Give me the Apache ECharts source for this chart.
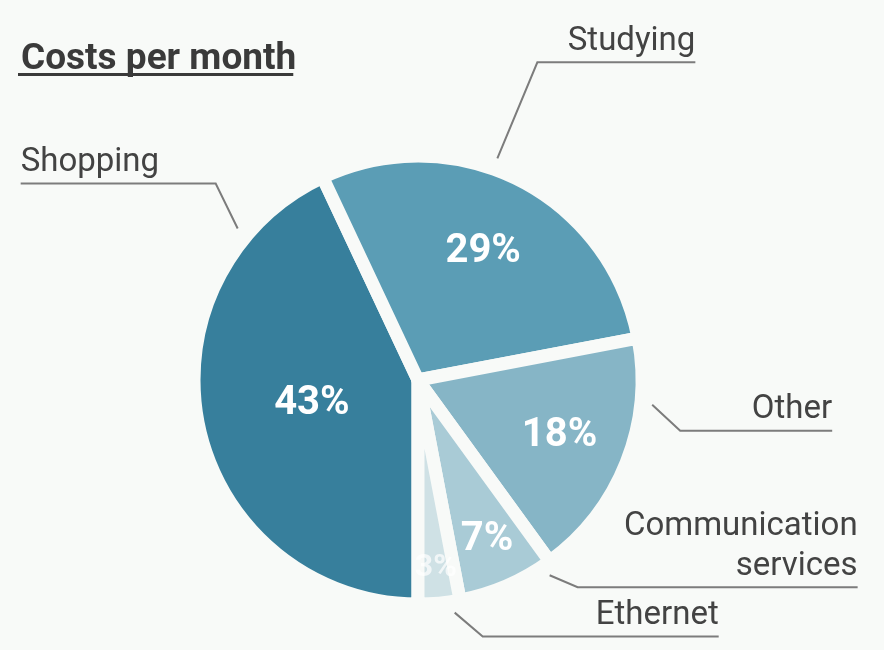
<!DOCTYPE html>
<html><head><meta charset="utf-8">
<script src="https://cdn.jsdelivr.net/npm/echarts@6/dist/echarts.min.js"></script>
<style>html,body{margin:0;padding:0;background:#f8faf8;} #main{width:884px;height:650px;}</style>
</head><body><div id="main"></div>
<script>
// ---- data ----
const categories = ['Shopping', 'Studying', 'Other', 'Communication\nservices', 'Ethernet'];
const shares = [43, 29, 18, 7, 3];
const titleText = 'Costs per month';

// ---- style / layout config ----
const BG = '#f8faf8';
const sliceColors = ['#377f9c', '#5b9db5', '#86b5c6', '#a9cbd6', '#cfe1e5'];
const innerLabelOpacity = [1, 1, 1, 1, 0.7];
const innerLabelSize = [40, 40, 40, 40, 32];
const CX = 418, CY = 380, R_OUT = 224, GAP = 13;
const R_VIS = R_OUT - GAP / 2;
const innerLabelRadius = [0.5, 0.66, 0.7, 0.8, 0.87];
const labelAnchor = [0.84, 0.43, 0.26, 0.08, 0.17];
const leaderBend = [[-22, -45], [40, -96], [28, 26], [28, 12], [28, 24]];
const leaderRun = [195, 158, 152, 280, 236];
const LEADER_GAP = 18;
const LABEL_FONT = 'Roboto';
const TITLE_SIZE = 37;

// slice angles (clockwise from 12 o'clock, starting at 6 o'clock)
const total = shares.reduce((a, b) => a + b, 0);
const sliceAngles = [];
(function () {
  let a = 180;
  shares.forEach(v => { const s = a; a += v / total * 360; sliceAngles.push([s, a]); });
})();
function polar(deg, r) {
  const t = deg * Math.PI / 180;
  return [CX + r * Math.sin(t), CY - r * Math.cos(t)];
}

const chart = echarts.init(document.getElementById('main'), null, { renderer: 'canvas' });

// measure title for underline
const mctx = document.createElement('canvas').getContext('2d');
mctx.font = 'bold ' + TITLE_SIZE + 'px Roboto';
const titleW = mctx.measureText(titleText).width;

const pieData = categories.map((c, i) => ({
  name: c, value: shares[i],
  itemStyle: { color: sliceColors[i] },
  label: { opacity: innerLabelOpacity[i], fontSize: innerLabelSize[i] }
}));
const labelData = categories.map((c, i) => ({ name: c, value: shares[i] }));

chart.setOption({
  backgroundColor: BG,
  animation: false,
  title: {
    text: titleText, left: 16, top: 33,
    textStyle: { fontFamily: LABEL_FONT, fontSize: TITLE_SIZE, fontWeight: 'bold', color: '#3a3a3a', lineHeight: 44 }
  },
  graphic: [{
    type: 'rect', left: 18, top: 73,
    shape: { width: titleW, height: 3 },
    style: { fill: '#3a3a3a' }, silent: true
  }],
  series: [
    {
      type: 'pie',
      center: [CX, CY], radius: R_OUT,
      startAngle: -90, clockwise: true,
      emphasis: { disabled: true },
      silent: true,
      itemStyle: { borderColor: BG, borderWidth: GAP, borderJoin: 'round' },
      label: {
        show: true, position: 'inside', formatter: '{c}%',
        color: '#ffffff', fontFamily: LABEL_FONT, fontSize: 40, fontWeight: 'bold'
      },
      labelLine: { show: false },
      labelLayout: function (p) {
        const i = p.dataIndex;
        const [s, e] = sliceAngles[i];
        const pt = polar((s + e) / 2, R_VIS * innerLabelRadius[i]);
        return { x: pt[0], y: pt[1], align: 'center', verticalAlign: 'middle' };
      },
      data: pieData
    },
    {
      type: 'pie',
      center: [CX, CY], radius: R_OUT,
      startAngle: -90, clockwise: true,
      emphasis: { disabled: true },
      silent: true,
      itemStyle: { color: 'rgba(0,0,0,0)', borderWidth: 0 },
      label: {
        show: true, position: 'outside', formatter: '{b}',
        color: '#434343', fontFamily: LABEL_FONT, fontSize: 33, lineHeight: 40
      },
      labelLine: { show: true, lineStyle: { color: '#7c7c7c', width: 2 } },
      labelLayout: function (p) {
        const i = p.dataIndex;
        const [s, e] = sliceAngles[i];
        const p0 = polar(s + (e - s) * labelAnchor[i], R_VIS + LEADER_GAP);
        const p1 = [p0[0] + leaderBend[i][0], p0[1] + leaderBend[i][1]];
        const dir = leaderBend[i][0] < 0 ? -1 : 1;
        const p2 = [p1[0] + dir * leaderRun[i], p1[1]];
        return {
          x: p2[0], y: p1[1] - 1,
          align: dir < 0 ? 'left' : 'right',
          verticalAlign: 'bottom',
          labelLinePoints: [p0, p1, p2]
        };
      },
      data: labelData
    }
  ]
});
</script>
</body></html>
